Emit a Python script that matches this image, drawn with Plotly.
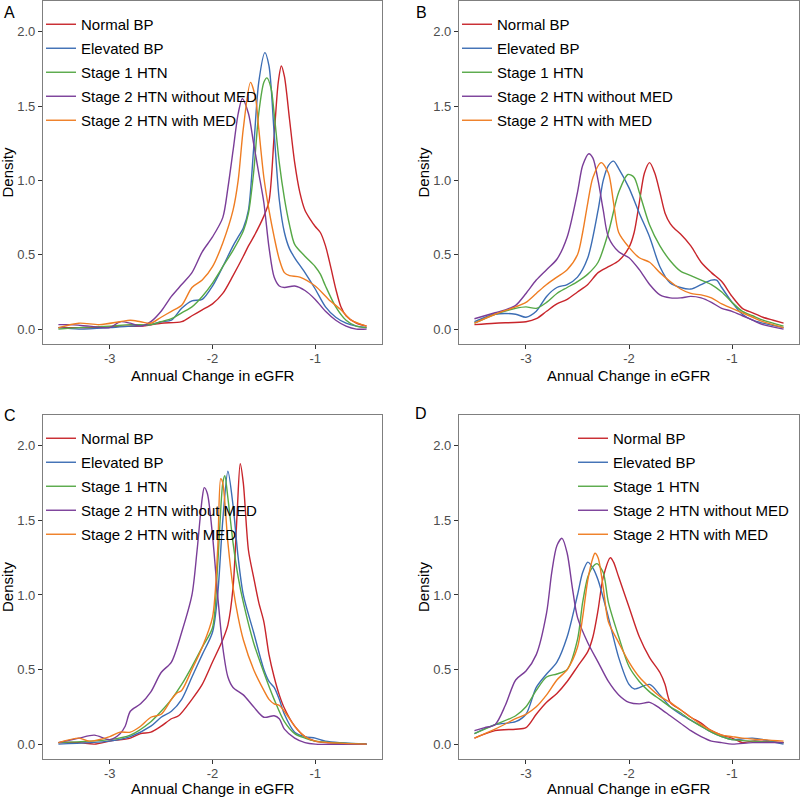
import plotly.graph_objects as go

SERIES = ["Normal BP", "Elevated BP", "Stage 1 HTN", "Stage 2 HTN without MED", "Stage 2 HTN with MED"]
COLORS = ["#C8252B", "#3C6DB4", "#56A846", "#7A3D98", "#EF7D22"]
PANELS = ["A", "B", "C", "D"]
X_TICKS = [-3, -2, -1]
X_TICK_LABELS = ["-3", "-2", "-1"]
Y_TICKS = [0.0, 0.5, 1.0, 1.5, 2.0]
Y_TICK_LABELS = ["0.0", "0.5", "1.0", "1.5", "2.0"]
X_TITLE = "Annual Change in eGFR"
Y_TITLE = "Density"

# ---------------- Panel A ----------------
A_normal_x = [-3.5, -3.3, -3.1, -2.9, -2.7, -2.5, -2.3, -2.2, -2.1, -2.0, -1.9, -1.8, -1.7, -1.65, -1.6, -1.5, -1.45, -1.4, -1.36, -1.33, -1.3, -1.25, -1.2, -1.15, -1.1, -1.05, -1.0, -0.95, -0.9, -0.85, -0.8, -0.75, -0.7, -0.6, -0.5]
A_normal_y = [0.01, 0.01, 0.01, 0.02, 0.02, 0.04, 0.05, 0.09, 0.13, 0.17, 0.24, 0.36, 0.49, 0.56, 0.62, 0.76, 0.86, 1.30, 1.66, 1.77, 1.70, 1.41, 1.12, 0.92, 0.80, 0.74, 0.69, 0.65, 0.56, 0.42, 0.27, 0.15, 0.09, 0.04, 0.02]
A_elev_x = [-3.5, -3.3, -3.0, -2.8, -2.6, -2.5, -2.4, -2.3, -2.2, -2.1, -2.0, -1.9, -1.8, -1.75, -1.7, -1.65, -1.6, -1.55, -1.49, -1.45, -1.4, -1.35, -1.3, -1.25, -1.2, -1.1, -1.0, -0.9, -0.8, -0.7, -0.6, -0.5]
A_elev_y = [0.01, 0.00, 0.01, 0.02, 0.03, 0.05, 0.06, 0.14, 0.19, 0.20, 0.29, 0.42, 0.56, 0.62, 0.68, 0.80, 1.21, 1.66, 1.86, 1.77, 1.32, 0.87, 0.65, 0.54, 0.48, 0.38, 0.27, 0.15, 0.08, 0.04, 0.02, 0.01]
A_st1_x = [-3.5, -3.3, -3.0, -2.8, -2.6, -2.5, -2.4, -2.3, -2.2, -2.1, -2.0, -1.9, -1.8, -1.7, -1.65, -1.6, -1.55, -1.5, -1.47, -1.43, -1.4, -1.35, -1.3, -1.25, -1.2, -1.1, -1.0, -0.95, -0.9, -0.8, -0.7, -0.6, -0.5]
A_st1_y = [0.00, 0.01, 0.02, 0.03, 0.03, 0.05, 0.07, 0.11, 0.15, 0.22, 0.31, 0.42, 0.53, 0.66, 0.78, 1.05, 1.45, 1.66, 1.69, 1.62, 1.45, 1.12, 0.88, 0.70, 0.57, 0.49, 0.42, 0.37, 0.29, 0.15, 0.06, 0.02, 0.01]
A_st2n_x = [-3.5, -3.4, -3.2, -3.0, -2.9, -2.8, -2.7, -2.6, -2.5, -2.4, -2.3, -2.2, -2.1, -2.0, -1.9, -1.85, -1.8, -1.75, -1.71, -1.65, -1.6, -1.55, -1.5, -1.45, -1.4, -1.35, -1.3, -1.2, -1.1, -1.0, -0.9, -0.8, -0.7, -0.6, -0.5]
A_st2n_y = [0.03, 0.03, 0.02, 0.01, 0.05, 0.04, 0.02, 0.05, 0.12, 0.22, 0.30, 0.38, 0.52, 0.62, 0.75, 0.95, 1.20, 1.45, 1.55, 1.45, 1.25, 1.05, 0.85, 0.55, 0.35, 0.29, 0.28, 0.29, 0.26, 0.20, 0.12, 0.06, 0.02, 0.00, 0.00]
A_st2m_x = [-3.5, -3.3, -3.1, -2.9, -2.8, -2.7, -2.6, -2.5, -2.4, -2.3, -2.2, -2.1, -2.0, -1.9, -1.8, -1.75, -1.7, -1.63, -1.58, -1.55, -1.5, -1.45, -1.4, -1.35, -1.3, -1.25, -1.15, -1.0, -0.87, -0.75, -0.65, -0.5]
A_st2m_y = [0.01, 0.04, 0.03, 0.05, 0.06, 0.05, 0.04, 0.08, 0.12, 0.16, 0.28, 0.33, 0.42, 0.58, 0.80, 1.00, 1.35, 1.66, 1.55, 1.35, 1.02, 0.80, 0.62, 0.47, 0.38, 0.36, 0.35, 0.29, 0.20, 0.13, 0.06, 0.02]

# ---------------- Panel B ----------------
B_normal_x = [-3.5, -3.3, -3.0, -2.9, -2.8, -2.7, -2.6, -2.5, -2.4, -2.3, -2.2, -2.1, -2.0, -1.95, -1.9, -1.85, -1.8, -1.75, -1.7, -1.65, -1.6, -1.55, -1.5, -1.4, -1.3, -1.2, -1.1, -1.0, -0.9, -0.8, -0.7, -0.6, -0.5]
B_normal_y = [0.03, 0.04, 0.05, 0.07, 0.12, 0.17, 0.20, 0.25, 0.30, 0.38, 0.42, 0.46, 0.55, 0.65, 0.85, 1.05, 1.12, 1.05, 0.92, 0.78, 0.71, 0.67, 0.64, 0.56, 0.45, 0.38, 0.32, 0.22, 0.14, 0.11, 0.08, 0.06, 0.04]
B_elev_x = [-3.5, -3.3, -3.1, -3.0, -2.9, -2.8, -2.7, -2.6, -2.5, -2.4, -2.3, -2.25, -2.2, -2.15, -2.1, -2.0, -1.9, -1.8, -1.7, -1.6, -1.5, -1.4, -1.3, -1.2, -1.15, -1.1, -1.0, -0.9, -0.8, -0.7, -0.5]
B_elev_y = [0.05, 0.10, 0.10, 0.08, 0.12, 0.22, 0.28, 0.30, 0.35, 0.48, 0.80, 1.00, 1.10, 1.13, 1.08, 0.95, 0.78, 0.62, 0.42, 0.31, 0.28, 0.27, 0.30, 0.33, 0.33, 0.28, 0.18, 0.10, 0.06, 0.04, 0.01]
B_st1_x = [-3.5, -3.3, -3.1, -3.0, -2.9, -2.8, -2.7, -2.6, -2.5, -2.4, -2.3, -2.2, -2.1, -2.01, -1.95, -1.9, -1.8, -1.7, -1.6, -1.5, -1.4, -1.3, -1.2, -1.1, -1.0, -0.9, -0.8, -0.7, -0.5]
B_st1_y = [0.04, 0.10, 0.14, 0.15, 0.14, 0.18, 0.24, 0.28, 0.32, 0.37, 0.45, 0.65, 0.92, 1.04, 1.02, 0.92, 0.70, 0.56, 0.46, 0.39, 0.36, 0.33, 0.30, 0.25, 0.18, 0.12, 0.09, 0.06, 0.02]
B_st2n_x = [-3.5, -3.3, -3.2, -3.1, -3.0, -2.9, -2.8, -2.7, -2.6, -2.5, -2.45, -2.39, -2.35, -2.3, -2.25, -2.2, -2.1, -2.0, -1.9, -1.8, -1.7, -1.6, -1.5, -1.4, -1.3, -1.2, -1.1, -1.0, -0.9, -0.8, -0.7, -0.5]
B_st2n_y = [0.07, 0.11, 0.13, 0.16, 0.24, 0.33, 0.40, 0.47, 0.62, 0.92, 1.10, 1.18, 1.15, 1.00, 0.80, 0.62, 0.52, 0.48, 0.40, 0.30, 0.23, 0.21, 0.21, 0.22, 0.21, 0.18, 0.14, 0.12, 0.09, 0.06, 0.03, 0.00]
B_st2m_x = [-3.5, -3.3, -3.1, -3.0, -2.9, -2.8, -2.7, -2.6, -2.5, -2.45, -2.4, -2.35, -2.27, -2.2, -2.15, -2.1, -2.0, -1.9, -1.8, -1.7, -1.6, -1.5, -1.4, -1.3, -1.2, -1.1, -1.0, -0.9, -0.8, -0.7, -0.5]
B_st2m_y = [0.04, 0.10, 0.15, 0.18, 0.24, 0.30, 0.35, 0.40, 0.50, 0.65, 0.85, 1.02, 1.12, 1.05, 0.85, 0.65, 0.55, 0.48, 0.45, 0.38, 0.32, 0.27, 0.24, 0.23, 0.21, 0.17, 0.14, 0.11, 0.08, 0.05, 0.01]

# ---------------- Panel C ----------------
C_normal_x = [-3.5, -3.3, -3.15, -3.0, -2.8, -2.7, -2.6, -2.5, -2.4, -2.33, -2.2, -2.1, -2.0, -1.9, -1.85, -1.8, -1.76, -1.73, -1.7, -1.65, -1.6, -1.55, -1.5, -1.45, -1.4, -1.35, -1.3, -1.2, -1.1, -1.0, -0.9, -0.5]
C_normal_y = [0.01, 0.01, 0.00, 0.02, 0.04, 0.07, 0.08, 0.12, 0.17, 0.19, 0.30, 0.40, 0.55, 0.70, 0.80, 1.05, 1.55, 1.88, 1.75, 1.30, 1.12, 0.95, 0.82, 0.60, 0.45, 0.33, 0.24, 0.12, 0.05, 0.02, 0.01, 0.00]
C_elev_x = [-3.5, -3.0, -2.8, -2.6, -2.5, -2.4, -2.3, -2.2, -2.1, -2.0, -1.95, -1.9, -1.85, -1.8, -1.75, -1.7, -1.6, -1.5, -1.45, -1.4, -1.35, -1.3, -1.2, -1.1, -1.0, -0.9, -0.5]
C_elev_y = [0.00, 0.02, 0.05, 0.12, 0.18, 0.22, 0.30, 0.45, 0.60, 0.75, 1.00, 1.50, 1.83, 1.60, 1.25, 1.00, 0.75, 0.50, 0.42, 0.38, 0.30, 0.20, 0.08, 0.05, 0.04, 0.02, 0.00]
C_st1_x = [-3.5, -3.0, -2.8, -2.6, -2.5, -2.4, -2.3, -2.2, -2.1, -2.0, -1.95, -1.9, -1.88, -1.85, -1.8, -1.75, -1.7, -1.6, -1.5, -1.4, -1.3, -1.2, -1.1, -1.0, -0.5]
C_st1_y = [0.01, 0.03, 0.06, 0.15, 0.22, 0.30, 0.40, 0.52, 0.65, 0.78, 1.20, 1.75, 1.80, 1.65, 1.35, 1.12, 0.95, 0.68, 0.48, 0.30, 0.15, 0.07, 0.04, 0.02, 0.00]
C_st2n_x = [-3.5, -3.3, -3.15, -3.0, -2.9, -2.85, -2.8, -2.7, -2.6, -2.5, -2.4, -2.3, -2.2, -2.15, -2.1, -2.08, -2.05, -2.0, -1.95, -1.9, -1.85, -1.8, -1.7, -1.6, -1.5, -1.4, -1.35, -1.3, -1.2, -1.1, -1.0, -0.5]
C_st2n_y = [0.01, 0.04, 0.06, 0.03, 0.07, 0.12, 0.22, 0.27, 0.35, 0.48, 0.55, 0.75, 1.00, 1.30, 1.65, 1.72, 1.68, 1.40, 1.00, 0.65, 0.45, 0.38, 0.33, 0.25, 0.18, 0.19, 0.17, 0.10, 0.04, 0.01, 0.00, 0.00]
C_st2m_x = [-3.5, -3.3, -3.2, -3.0, -2.9, -2.8, -2.7, -2.6, -2.5, -2.4, -2.35, -2.3, -2.2, -2.1, -2.0, -1.95, -1.92, -1.9, -1.85, -1.8, -1.75, -1.7, -1.6, -1.5, -1.45, -1.4, -1.35, -1.3, -1.2, -1.1, -1.0, -0.5]
C_st2m_y = [0.01, 0.04, 0.02, 0.05, 0.08, 0.08, 0.12, 0.18, 0.20, 0.30, 0.34, 0.36, 0.50, 0.65, 0.85, 1.30, 1.78, 1.75, 1.35, 1.05, 0.85, 0.70, 0.50, 0.36, 0.30, 0.27, 0.26, 0.22, 0.12, 0.05, 0.02, 0.00]

# ---------------- Panel D ----------------
D_normal_x = [-3.5, -3.3, -3.1, -3.0, -2.9, -2.8, -2.7, -2.6, -2.5, -2.4, -2.35, -2.3, -2.25, -2.18, -2.15, -2.1, -2.0, -1.9, -1.8, -1.7, -1.65, -1.6, -1.5, -1.4, -1.3, -1.2, -1.1, -1.0, -0.9, -0.8, -0.5]
D_normal_y = [0.04, 0.09, 0.10, 0.11, 0.20, 0.28, 0.34, 0.42, 0.52, 0.62, 0.72, 0.90, 1.12, 1.25, 1.22, 1.12, 0.92, 0.72, 0.58, 0.48, 0.40, 0.28, 0.23, 0.18, 0.14, 0.09, 0.06, 0.04, 0.01, 0.02, 0.01]
D_elev_x = [-3.5, -3.3, -3.1, -3.0, -2.9, -2.8, -2.7, -2.6, -2.5, -2.45, -2.4, -2.35, -2.3, -2.2, -2.1, -2.0, -1.95, -1.8, -1.7, -1.6, -1.5, -1.4, -1.3, -1.2, -1.1, -1.0, -0.8, -0.5]
D_elev_y = [0.07, 0.13, 0.15, 0.20, 0.38, 0.47, 0.55, 0.72, 1.00, 1.15, 1.22, 1.18, 1.10, 0.85, 0.58, 0.40, 0.37, 0.40, 0.33, 0.25, 0.20, 0.16, 0.12, 0.08, 0.05, 0.03, 0.04, 0.00]
D_st1_x = [-3.5, -3.3, -3.1, -3.0, -2.9, -2.8, -2.7, -2.6, -2.5, -2.45, -2.4, -2.35, -2.31, -2.25, -2.2, -2.1, -2.0, -1.9, -1.8, -1.7, -1.6, -1.5, -1.4, -1.3, -1.2, -1.1, -1.0, -0.8, -0.5]
D_st1_y = [0.07, 0.13, 0.19, 0.25, 0.36, 0.45, 0.47, 0.50, 0.70, 0.95, 1.12, 1.19, 1.21, 1.15, 0.95, 0.72, 0.52, 0.42, 0.35, 0.30, 0.25, 0.21, 0.16, 0.12, 0.08, 0.05, 0.03, 0.02, 0.01]
D_st2n_x = [-3.5, -3.4, -3.3, -3.2, -3.1, -3.0, -2.9, -2.8, -2.75, -2.7, -2.65, -2.6, -2.55, -2.5, -2.4, -2.3, -2.2, -2.1, -2.0, -1.9, -1.8, -1.7, -1.6, -1.5, -1.4, -1.3, -1.2, -1.1, -1.0, -0.8, -0.5]
D_st2n_y = [0.09, 0.11, 0.13, 0.26, 0.43, 0.49, 0.60, 0.88, 1.15, 1.33, 1.38, 1.28, 1.05, 0.85, 0.68, 0.55, 0.42, 0.33, 0.28, 0.27, 0.28, 0.24, 0.19, 0.14, 0.09, 0.05, 0.02, 0.01, 0.00, 0.01, 0.01]
D_st2m_x = [-3.5, -3.3, -3.1, -3.0, -2.9, -2.8, -2.7, -2.6, -2.5, -2.45, -2.4, -2.35, -2.33, -2.3, -2.25, -2.2, -2.1, -2.0, -1.9, -1.8, -1.7, -1.6, -1.5, -1.4, -1.3, -1.2, -1.1, -1.0, -0.9, -0.5]
D_st2m_y = [0.04, 0.10, 0.17, 0.20, 0.25, 0.33, 0.43, 0.50, 0.65, 0.85, 1.10, 1.25, 1.28, 1.25, 1.05, 0.82, 0.68, 0.55, 0.45, 0.38, 0.32, 0.28, 0.23, 0.18, 0.13, 0.09, 0.06, 0.05, 0.04, 0.02]

PANEL_DATA = {
    "A": [(A_normal_x, A_normal_y), (A_elev_x, A_elev_y), (A_st1_x, A_st1_y), (A_st2n_x, A_st2n_y), (A_st2m_x, A_st2m_y)],
    "B": [(B_normal_x, B_normal_y), (B_elev_x, B_elev_y), (B_st1_x, B_st1_y), (B_st2n_x, B_st2n_y), (B_st2m_x, B_st2m_y)],
    "C": [(C_normal_x, C_normal_y), (C_elev_x, C_elev_y), (C_st1_x, C_st1_y), (C_st2n_x, C_st2n_y), (C_st2m_x, C_st2m_y)],
    "D": [(D_normal_x, D_normal_y), (D_elev_x, D_elev_y), (D_st1_x, D_st1_y), (D_st2n_x, D_st2n_y), (D_st2m_x, D_st2m_y)],
}

W, H = 800, 797
# plot boxes in pixels: left, right, top, bottom
BOXES = {"A": (43, 382, 1, 344), "B": (459, 799, 1, 344), "C": (43, 382, 415, 759), "D": (459, 799, 415, 759)}
LEGEND_POS = {"A": (41, 8), "B": (457, 8), "C": (41, 422), "D": (573, 422)}
LABEL_POS = {"A": (9, 13), "B": (421, 12), "C": (10, 415), "D": (421, 414)}
XTITLE_Y = {"A": 375, "B": 375, "C": 788.5, "D": 788.5}
YTITLE_X = {"A": 7, "B": 423, "C": 7, "D": 423}

FONT = "Liberation Sans, Arial, sans-serif"
fig = go.Figure()
layout = dict(
    width=W, height=H, margin=dict(l=0, r=0, t=0, b=0),
    paper_bgcolor="white", plot_bgcolor="white",
    font=dict(family=FONT, color="black"),
)
annotations = []
for i, p in enumerate(PANELS):
    n = "" if i == 0 else str(i + 1)
    l, r, t, b = BOXES[p]
    ax = dict(
        domain=[l / W, r / W], range=[-3.65, -0.35], anchor="y" + n,
        tickvals=X_TICKS, ticktext=X_TICK_LABELS, ticks="outside", ticklen=4, tickwidth=1, tickcolor="#333333",
        tickfont=dict(size=13, color="#4D4D4D"), ticklabelstandoff=-2, showgrid=False, zeroline=False,
        showline=True, mirror=True, linecolor="#7F7F7F", linewidth=1.2,
    )
    ay = dict(
        domain=[1 - b / H, 1 - t / H], range=[-0.1, 2.207], anchor="x" + n,
        tickvals=Y_TICKS, ticktext=Y_TICK_LABELS, ticks="outside", ticklen=4, tickwidth=1, tickcolor="#333333",
        tickfont=dict(size=13, color="#4D4D4D"), showgrid=False, zeroline=False,
        showline=True, mirror=True, linecolor="#7F7F7F", linewidth=1.2,
    )
    layout["xaxis" + n] = ax
    layout["yaxis" + n] = ay
    lx, ly = LEGEND_POS[p]
    layout["legend" + n] = dict(
        x=lx / W, y=1 - ly / H, xanchor="left", yanchor="top", xref="paper", yref="paper",
        bgcolor="rgba(0,0,0,0)", borderwidth=0, font=dict(size=15, color="black"),
        tracegroupgap=1.5, itemwidth=30,
    )
    for k, (xs, ys) in enumerate(PANEL_DATA[p]):
        fig.add_trace(go.Scatter(
            x=xs, y=ys, mode="lines", name=SERIES[k],
            line=dict(color=COLORS[k], width=1.4, shape="spline", smoothing=0.8),
            xaxis="x" + n, yaxis="y" + n, legend="legend" + n, legendgroup=p + str(k),
            hoverinfo="skip",
        ))
    px_, py_ = LABEL_POS[p]
    annotations.append(dict(text=p, x=px_ / W, y=1 - py_ / H, xref="paper", yref="paper",
                            showarrow=False, xanchor="center", yanchor="middle",
                            font=dict(size=16, color="black")))
    # axis titles
    annotations.append(dict(text=X_TITLE, x=(l + r) / 2 / W, y=1 - XTITLE_Y[p] / H,
                            xref="paper", yref="paper", showarrow=False, borderpad=0,
                            xanchor="center", yanchor="middle", font=dict(size=15, color="black")))
    annotations.append(dict(text=Y_TITLE, x=YTITLE_X[p] / W, y=1 - (t + b) / 2 / H,
                            xref="paper", yref="paper", showarrow=False, textangle=-90, borderpad=0,
                            xanchor="center", yanchor="middle", font=dict(size=15, color="black")))
layout["annotations"] = annotations
fig.update_layout(**layout)
fig.write_html("out.html", config={"displayModeBar": False},
               post_script="document.body.style.margin='0';document.body.style.overflow='hidden';")
